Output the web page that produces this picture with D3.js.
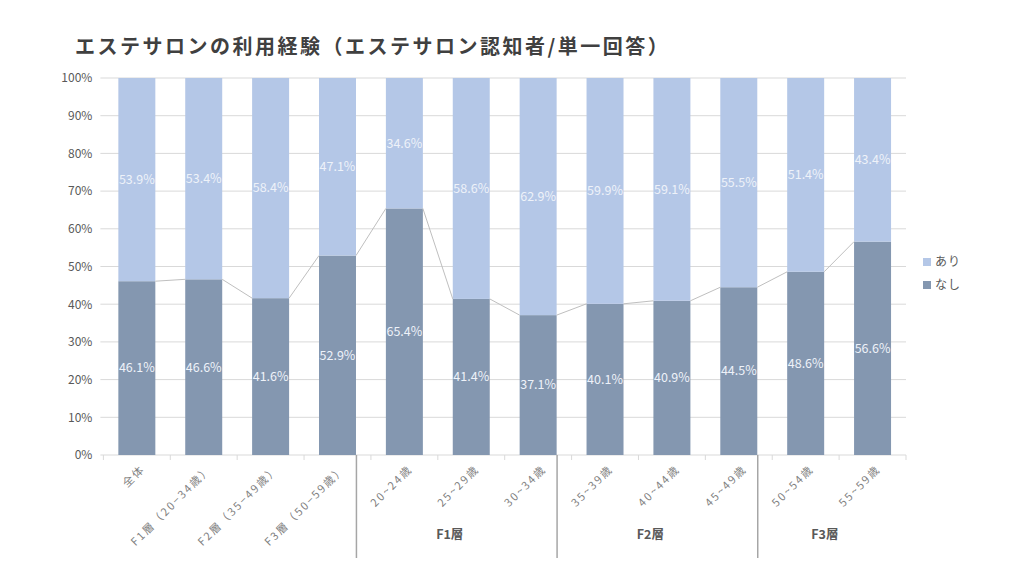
<!DOCTYPE html>
<html><head><meta charset="utf-8">
<script src="https://cdn.jsdelivr.net/npm/d3@7"></script>
<style>
body{margin:0;background:#fff;}
text{font-family:"Noto Sans CJK JP","Noto Sans",sans-serif;}
</style></head>
<body><svg id="c" width="1024" height="576"></svg>
<script>
const categories = ["全体","F1層（20−34歳）","F2層（35−49歳）","F3層（50−59歳）","20~24歳","25~29歳","30~34歳","35~39歳","40~44歳","45~49歳","50~54歳","55~59歳"];
const groupLabels = ["", "F1層", "F2層", "F3層"];
const groupSizes = [4, 3, 3, 2];
const nashi = [46.1,46.6,41.6,52.9,65.4,41.4,37.1,40.1,40.9,44.5,48.6,56.6];
const ari = [53.9,53.4,58.4,47.1,34.6,58.6,62.9,59.9,59.1,55.5,51.4,43.4];
const seriesNames = ["あり","なし"];
const yTicks = [0,10,20,30,40,50,60,70,80,90,100];

const svg = d3.select("#c");
const L = 103.4, R = 906, T = 78, B = 455;
const x = d3.scaleBand().domain(categories).range([L, R]).paddingInner(0.447).paddingOuter(0.2235);
const y = d3.scaleLinear().domain([0, 100]).range([B, T]);
const cAri = "#b4c7e7", cNashi = "#8497b0";

svg.append("text").attr("x", 75).attr("y", 54)
  .attr("font-size", 20).attr("font-weight", "bold").attr("fill", "#404040")
  .attr("letter-spacing", "2.5px")
  .text("エステサロンの利用経験（エステサロン認知者/単一回答）");

// gridlines
svg.append("g").selectAll("line").data(yTicks).join("line")
  .attr("x1", L - 3).attr("x2", R).attr("y1", d => y(d)).attr("y2", d => y(d))
  .attr("stroke", "#d9d9d9").attr("stroke-width", 1);

// y axis labels
const yAxis = d3.axisLeft(y).tickValues(yTicks).tickFormat(d => d + "%").tickSize(0).tickPadding(0);
const gy = svg.append("g").attr("transform", `translate(${L - 11},0)`).call(yAxis);
gy.select(".domain").remove();
gy.selectAll("text").attr("font-size", 12).attr("fill", "#595959")
  .attr("font-family", '"Noto Sans CJK JP",sans-serif');

// bars
const data = categories.map((c, i) => ({c, n: nashi[i], a: ari[i]}));
const g = svg.append("g");
g.selectAll("rect.n").data(data).join("rect")
  .attr("x", d => x(d.c)).attr("width", x.bandwidth())
  .attr("y", d => y(d.n)).attr("height", d => y(0) - y(d.n)).attr("fill", cNashi);
g.selectAll("rect.a").data(data).join("rect")
  .attr("x", d => x(d.c)).attr("width", x.bandwidth())
  .attr("y", d => y(d.n + d.a)).attr("height", d => y(d.n) - y(d.n + d.a)).attr("fill", cAri);

// series lines
const segs = data.slice(0, -1).map((d, i) => [d, data[i + 1]]);
g.selectAll("line.s").data(segs).join("line")
  .attr("x1", d => x(d[0].c) + x.bandwidth()).attr("y1", d => y(d[0].n))
  .attr("x2", d => x(d[1].c)).attr("y2", d => y(d[1].n))
  .attr("stroke", "#bfbfbf").attr("stroke-width", 1);

// labels
const lab = (sel) => sel.attr("text-anchor", "middle").attr("dy", "0.35em")
  .attr("font-size", 12.5).attr("fill", "#eef2f9");
g.selectAll("text.n").data(data).join("text").call(lab)
  .attr("x", d => x(d.c) + x.bandwidth() / 2).attr("y", d => (y(0) + y(d.n)) / 2)
  .text(d => d.n.toFixed(1) + "%");
g.selectAll("text.a").data(data).join("text").call(lab)
  .attr("x", d => x(d.c) + x.bandwidth() / 2).attr("y", d => (y(d.n) + y(d.n + d.a)) / 2)
  .text(d => d.a.toFixed(1) + "%");

// x ticks at category boundaries
const step = x.step();
const bounds = d3.range(categories.length + 1).map(i => L + i * step);
svg.append("g").selectAll("line").data(bounds).join("line")
  .attr("x1", d => d).attr("x2", d => d).attr("y1", B).attr("y2", B + 5)
  .attr("stroke", "#d9d9d9");

// x category labels
svg.append("g").selectAll("text").data(categories).join("text")
  .attr("transform", d => `translate(${x(d) + x.bandwidth() / 2 + 6},${B + 12}) rotate(-45)`)
  .attr("text-anchor", "end").attr("dy", "0.35em")
  .attr("font-size", 11).attr("fill", "#7f7f7f").attr("letter-spacing", "2px")
  .text(d => d);

// group separators & labels
let acc = 0;
const groups = groupSizes.map((s, i) => { const st = acc; acc += s; return {label: groupLabels[i], start: st, end: acc}; });
const sepX = i => L + i * step - 14.5;
svg.append("g").selectAll("line").data(groups.slice(1)).join("line")
  .attr("x1", d => sepX(d.start)).attr("x2", d => sepX(d.start))
  .attr("y1", B).attr("y2", B + 103)
  .attr("stroke", "#a6a6a6").attr("stroke-width", 1.5);
svg.append("g").selectAll("text").data(groups.slice(1)).join("text")
  .attr("x", d => (sepX(d.start) + (d.end === categories.length ? R : sepX(d.end))) / 2 - 7)
  .attr("y", 535).attr("dy", "0.35em").attr("text-anchor", "middle")
  .attr("font-size", 12.5).attr("font-weight", "bold").attr("fill", "#595959")
  .text(d => d.label);

// legend
const lg = svg.append("g").selectAll("g").data(seriesNames).join("g")
  .attr("transform", (d, i) => `translate(923,${262 + i * 23})`);
lg.append("rect").attr("x", 0).attr("y", -4).attr("width", 8).attr("height", 8)
  .attr("fill", (d, i) => i === 0 ? cAri : cNashi);
lg.append("text").attr("x", 12).attr("dy", "0.35em").attr("font-size", 12).attr("fill", "#595959")
  .attr("letter-spacing", "1px").text(d => d);
</script></body></html>
